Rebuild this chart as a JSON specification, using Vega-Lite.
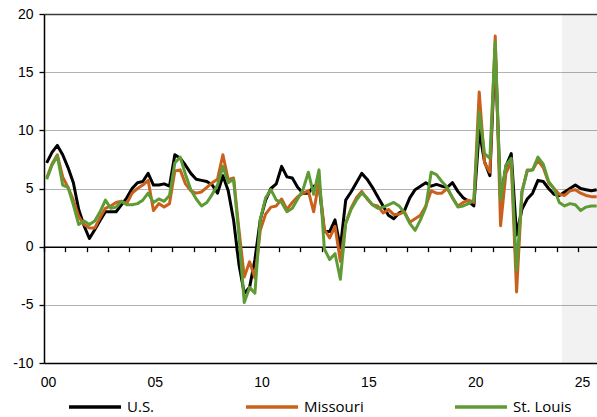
{
  "$schema": "https://vega.github.io/schema/vega-lite/v6.json",
  "width": 553,
  "height": 349,
  "autosize": {"type": "none"},
  "padding": {"left": 44, "top": 14, "right": 0, "bottom": 54},
  "background": "white",
  "config": {"view": {"stroke": null}, "font": "Liberation Sans"},
  "data": {"values": [
    {"t": 2000.125, "us": 7.2, "mo": 5.9, "stl": 5.8},
    {"t": 2000.375, "us": 8.1, "mo": 7.1, "stl": 7.0},
    {"t": 2000.625, "us": 8.7, "mo": 7.9, "stl": 7.8},
    {"t": 2000.875, "us": 7.9, "mo": 6.0, "stl": 5.3},
    {"t": 2001.125, "us": 6.8, "mo": 5.1, "stl": 5.1},
    {"t": 2001.375, "us": 5.5, "mo": 4.0, "stl": 3.6},
    {"t": 2001.625, "us": 3.2, "mo": 2.6, "stl": 1.9},
    {"t": 2001.875, "us": 1.8, "mo": 1.9, "stl": 2.2},
    {"t": 2002.125, "us": 0.7, "mo": 1.6, "stl": 1.9},
    {"t": 2002.375, "us": 1.45, "mo": 1.6, "stl": 2.2},
    {"t": 2002.625, "us": 2.25, "mo": 2.5, "stl": 3.0},
    {"t": 2002.875, "us": 3.0, "mo": 3.3, "stl": 4.0},
    {"t": 2003.125, "us": 3.0, "mo": 3.5, "stl": 3.3},
    {"t": 2003.375, "us": 3.0, "mo": 3.8, "stl": 3.4},
    {"t": 2003.625, "us": 3.6, "mo": 3.9, "stl": 3.9},
    {"t": 2003.875, "us": 4.2, "mo": 3.7, "stl": 3.6},
    {"t": 2004.125, "us": 5.0, "mo": 4.6, "stl": 3.6},
    {"t": 2004.375, "us": 5.5, "mo": 5.0, "stl": 3.7},
    {"t": 2004.625, "us": 5.6, "mo": 5.3, "stl": 4.0},
    {"t": 2004.875, "us": 6.3, "mo": 5.7, "stl": 4.6},
    {"t": 2005.125, "us": 5.3, "mo": 3.1, "stl": 3.8},
    {"t": 2005.375, "us": 5.3, "mo": 3.7, "stl": 4.1},
    {"t": 2005.625, "us": 5.4, "mo": 3.4, "stl": 3.9},
    {"t": 2005.875, "us": 5.2, "mo": 3.7, "stl": 4.4},
    {"t": 2006.125, "us": 7.9, "mo": 6.5, "stl": 7.2},
    {"t": 2006.375, "us": 7.6, "mo": 6.6, "stl": 7.7},
    {"t": 2006.625, "us": 7.0, "mo": 5.4, "stl": 6.2},
    {"t": 2006.875, "us": 6.3, "mo": 4.8, "stl": 4.9},
    {"t": 2007.125, "us": 5.8, "mo": 4.6, "stl": 4.1},
    {"t": 2007.375, "us": 5.7, "mo": 4.7, "stl": 3.5},
    {"t": 2007.625, "us": 5.6, "mo": 5.1, "stl": 3.8},
    {"t": 2007.875, "us": 5.3, "mo": 5.5, "stl": 4.5},
    {"t": 2008.125, "us": 4.6, "mo": 5.8, "stl": 5.3},
    {"t": 2008.375, "us": 6.1, "mo": 7.9, "stl": 6.9},
    {"t": 2008.625, "us": 4.8, "mo": 5.75, "stl": 5.5},
    {"t": 2008.875, "us": 2.3, "mo": 5.9, "stl": 5.8},
    {"t": 2009.125, "us": -1.5, "mo": 1.5, "stl": 1.0},
    {"t": 2009.375, "us": -4.0, "mo": -2.6, "stl": -4.8},
    {"t": 2009.625, "us": -3.5, "mo": -1.3, "stl": -3.5},
    {"t": 2009.875, "us": -1.1, "mo": -2.7, "stl": -4.0},
    {"t": 2010.125, "us": 2.3, "mo": 1.4, "stl": 2.3},
    {"t": 2010.375, "us": 4.0, "mo": 2.8, "stl": 4.2},
    {"t": 2010.625, "us": 5.0, "mo": 3.4, "stl": 4.9},
    {"t": 2010.875, "us": 5.4, "mo": 3.5, "stl": 4.0},
    {"t": 2011.125, "us": 6.9, "mo": 4.1, "stl": 3.8},
    {"t": 2011.375, "us": 6.0, "mo": 3.2, "stl": 3.0},
    {"t": 2011.625, "us": 5.9, "mo": 3.8, "stl": 3.3},
    {"t": 2011.875, "us": 5.1, "mo": 4.3, "stl": 4.1},
    {"t": 2012.125, "us": 4.6, "mo": 4.6, "stl": 4.9},
    {"t": 2012.375, "us": 4.6, "mo": 4.8, "stl": 6.4},
    {"t": 2012.625, "us": 5.2, "mo": 3.0, "stl": 4.5},
    {"t": 2012.875, "us": 5.3, "mo": 5.6, "stl": 6.6},
    {"t": 2013.125, "us": 1.3, "mo": 1.5, "stl": -0.2},
    {"t": 2013.375, "us": 1.3, "mo": 0.75, "stl": -1.1},
    {"t": 2013.625, "us": 2.3, "mo": 1.75, "stl": -0.6},
    {"t": 2013.875, "us": -0.1, "mo": -1.25, "stl": -2.8},
    {"t": 2014.125, "us": 4.0, "mo": 2.0, "stl": 2.0},
    {"t": 2014.375, "us": 4.7, "mo": 3.3, "stl": 3.2},
    {"t": 2014.625, "us": 5.5, "mo": 4.2, "stl": 4.0},
    {"t": 2014.875, "us": 6.3, "mo": 4.75, "stl": 4.6},
    {"t": 2015.125, "us": 5.8, "mo": 4.1, "stl": 4.2},
    {"t": 2015.375, "us": 5.1, "mo": 3.6, "stl": 3.6},
    {"t": 2015.625, "us": 4.3, "mo": 3.5, "stl": 3.3},
    {"t": 2015.875, "us": 3.5, "mo": 2.9, "stl": 3.4},
    {"t": 2016.125, "us": 2.7, "mo": 3.2, "stl": 3.6},
    {"t": 2016.375, "us": 2.4, "mo": 2.75, "stl": 3.8},
    {"t": 2016.625, "us": 2.9, "mo": 2.8, "stl": 3.5},
    {"t": 2016.875, "us": 3.1, "mo": 3.0, "stl": 2.9},
    {"t": 2017.125, "us": 4.2, "mo": 2.1, "stl": 2.0},
    {"t": 2017.375, "us": 4.9, "mo": 2.4, "stl": 1.4},
    {"t": 2017.625, "us": 5.2, "mo": 2.7, "stl": 2.3},
    {"t": 2017.875, "us": 5.5, "mo": 3.5, "stl": 3.4},
    {"t": 2018.125, "us": 5.2, "mo": 4.8, "stl": 6.4},
    {"t": 2018.375, "us": 5.35, "mo": 4.6, "stl": 6.2},
    {"t": 2018.625, "us": 5.2, "mo": 4.6, "stl": 5.6},
    {"t": 2018.875, "us": 5.1, "mo": 5.0, "stl": 5.1},
    {"t": 2019.125, "us": 5.5, "mo": 4.2, "stl": 4.2},
    {"t": 2019.375, "us": 4.75, "mo": 3.5, "stl": 3.4},
    {"t": 2019.625, "us": 4.2, "mo": 3.8, "stl": 3.5},
    {"t": 2019.875, "us": 3.9, "mo": 4.0, "stl": 3.7},
    {"t": 2020.125, "us": 3.5, "mo": 3.8, "stl": 4.0},
    {"t": 2020.375, "us": 10.0, "mo": 13.3, "stl": 11.6},
    {"t": 2020.625, "us": 7.3, "mo": 7.2, "stl": 8.0},
    {"t": 2020.875, "us": 6.1, "mo": 6.4, "stl": 7.6},
    {"t": 2021.125, "us": 17.0, "mo": 18.1, "stl": 17.6},
    {"t": 2021.375, "us": 4.0, "mo": 1.8, "stl": 4.0},
    {"t": 2021.625, "us": 6.9, "mo": 6.3, "stl": 7.0},
    {"t": 2021.875, "us": 8.0, "mo": 7.3, "stl": 7.6},
    {"t": 2022.125, "us": 1.0, "mo": -3.9, "stl": -2.0},
    {"t": 2022.375, "us": 3.2, "mo": 4.7, "stl": 4.7},
    {"t": 2022.625, "us": 4.1, "mo": 6.6, "stl": 6.5},
    {"t": 2022.875, "us": 4.6, "mo": 6.6, "stl": 6.6},
    {"t": 2023.125, "us": 5.7, "mo": 7.4, "stl": 7.7},
    {"t": 2023.375, "us": 5.6, "mo": 6.8, "stl": 7.1},
    {"t": 2023.625, "us": 5.0, "mo": 5.5, "stl": 5.6},
    {"t": 2023.875, "us": 4.5, "mo": 5.0, "stl": 5.0},
    {"t": 2024.125, "us": 4.4, "mo": 4.5, "stl": 3.8},
    {"t": 2024.375, "us": 4.7, "mo": 4.4, "stl": 3.5},
    {"t": 2024.625, "us": 5.0, "mo": 4.8, "stl": 3.7},
    {"t": 2024.875, "us": 5.3, "mo": 4.9, "stl": 3.6},
    {"t": 2025.125, "us": 5.0, "mo": 4.6, "stl": 3.1},
    {"t": 2025.375, "us": 4.9, "mo": 4.4, "stl": 3.4},
    {"t": 2025.625, "us": 4.8, "mo": 4.3, "stl": 3.5},
    {"t": 2025.875, "us": 4.9, "mo": 4.3, "stl": 3.5}
  ]},
  "resolve": {"axis": {"x": "independent"}},
  "layer": [
    {
      "data": {"values": [{"from": 2024.25, "to": 2025.89}]},
      "mark": {"type": "rect", "fill": "#000000", "opacity": 0.05},
      "encoding": {
        "x": {"field": "from", "type": "quantitative",
          "scale": {"domain": [2000, 2025.89], "nice": false, "zero": false},
          "axis": {"orient": "bottom", "values": [2000,2001,2002,2003,2004,2005,2006,2007,2008,2009,2010,2011,2012,2013,2014,2015,2016,2017,2018,2019,2020,2021,2022,2023,2024,2025],
            "labels": false, "ticks": true, "tickSize": 5, "tickColor": "#000000", "tickWidth": 1.3,
            "domain": true, "domainColor": "#000000", "domainWidth": 1.5,
            "offset": -116.33, "grid": false, "title": null}},
        "x2": {"field": "to"}
      }
    },
    {
      "mark": {"type": "line", "strokeWidth": 3, "strokeJoin": "round", "strokeCap": "butt"},
      "encoding": {
        "x": {"field": "t", "type": "quantitative",
          "scale": {"domain": [2000, 2025.89], "nice": false, "zero": false},
          "axis": {"orient": "bottom", "values": [2000, 2005, 2010, 2015, 2020, 2025],
            "labelExpr": "slice(toString(datum.value), 2)",
            "ticks": false, "tickSize": 0, "labelPadding": 12, "labelOffset": 4,
            "labelFlush": false, "labelOverlap": false, "labelBound": false,
            "labelFont": "Liberation Sans", "labelFontSize": 14, "labelColor": "#000000",
            "domain": true, "domainColor": "#000000", "domainWidth": 1.5,
            "grid": false, "title": null}},
        "y": {"field": "us", "type": "quantitative",
          "scale": {"domain": [-10, 20], "nice": false, "zero": false},
          "axis": {"values": [-10, -5, 0, 5, 10, 15, 20], "title": null,
            "labelExpr": "'' + datum.value",
            "grid": true,
            "gridColor": {"condition": {"test": "datum.value == 20", "value": "#3c3c3c"}, "value": "#b3b3b3"},
            "gridWidth": {"condition": {"test": "datum.value == 20", "value": 1.5}, "value": 1.2},
            "domainColor": "#000000", "domainWidth": 1.5,
            "tickColor": "#000000", "tickSize": 5, "tickWidth": 1.3,
            "labelPadding": 6, "labelFont": "Liberation Sans", "labelFontSize": 14, "labelColor": "#000000"}},
        "color": {"datum": "U.S.", "type": "nominal",
          "scale": {"domain": ["U.S.", "Missouri", "St. Louis"], "range": ["#000000", "#C9601B", "#5F9B35"]},
          "legend": {"orient": "none", "legendX": 23, "legendY": 365, "direction": "horizontal",
            "symbolType": "stroke", "symbolSize": 2704, "symbolStrokeWidth": 3.5,
            "labelFont": "Open Sans", "labelFontSize": 15, "labelColor": "#000000",
            "columnPadding": 84, "labelOffset": 4, "title": null}}
      }
    },
    {
      "mark": {"type": "line", "strokeWidth": 3, "strokeJoin": "round", "strokeCap": "butt"},
      "encoding": {
        "x": {"field": "t", "type": "quantitative", "axis": null},
        "y": {"field": "mo", "type": "quantitative"},
        "color": {"datum": "Missouri", "type": "nominal"}
      }
    },
    {
      "mark": {"type": "line", "strokeWidth": 3, "strokeJoin": "round", "strokeCap": "butt"},
      "encoding": {
        "x": {"field": "t", "type": "quantitative", "axis": null},
        "y": {"field": "stl", "type": "quantitative"},
        "color": {"datum": "St. Louis", "type": "nominal"}
      }
    }
  ]
}
